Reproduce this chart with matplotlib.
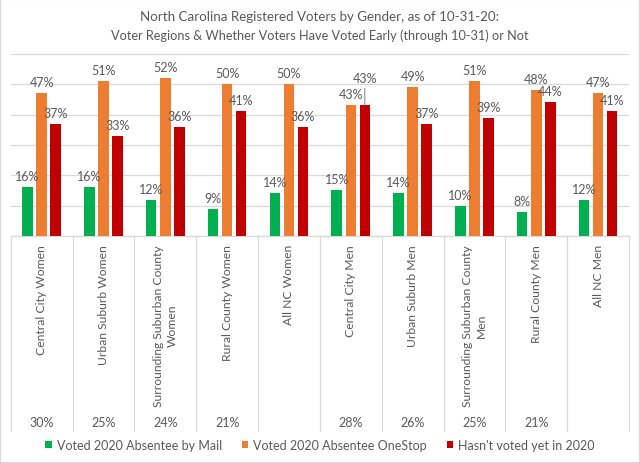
import matplotlib.pyplot as plt
import matplotlib.transforms as mtransforms
from matplotlib.patches import Rectangle, Patch

categories = [
    "Central City Women",
    "Urban Suburb Women",
    "Surrounding Suburban County\nWomen",
    "Rural County Women",
    "All NC Women",
    "Central City Men",
    "Urban Suburb Men",
    "Surrounding Suburban County\nMen",
    "Rural County Men",
    "All NC Men",
]
share_labels = ["30%", "25%", "24%", "21%", "", "28%", "26%", "25%", "21%", ""]

mail = [16, 16, 12, 9, 14, 15, 14, 10, 8, 12]
onestop = [47, 51, 52, 50, 50, 43, 49, 51, 48, 47]
not_yet = [37, 33, 36, 41, 36, 43, 37, 39, 44, 41]

series_names = [
    "Voted 2020 Absentee by Mail",
    "Voted 2020 Absentee OneStop",
    "Hasn't voted yet in 2020",
]
colors = ["#00B050", "#ED7D31", "#C00000"]
text_color = "#595959"
grid_color = "#D9D9D9"

plt.rcParams["font.family"] = ["Lato", "DejaVu Sans"]

W, H = 640, 464
fig = plt.figure(figsize=(W / 100, H / 100), dpi=100)

base_px = 237
top_px = 54.8
left_px = 10.7
right_px = 629
ax = fig.add_axes([left_px / W, (H - base_px) / H,
                   (right_px - left_px) / W, (base_px - top_px) / H])

x = list(range(len(categories)))
bw = 0.17
step = 0.227
all_series = [mail, onestop, not_yet]

# extra lift for crowded labels (series index, category index) -> pixels
label_lift = {(2, 5): 16}

for s, (vals, col) in enumerate(zip(all_series, colors)):
    xs = [i + (s - 1) * step for i in x]
    ax.bar(xs, vals, width=bw, color=col, zorder=3)
    for i, (xx, v) in enumerate(zip(xs, vals)):
        lift = label_lift.get((s, i), 0)
        ax.annotate(f"{v}%", (xx, v), xytext=(0, 11 + lift),
                    textcoords="offset pixels", ha="center", va="center",
                    fontsize=9, color=text_color, zorder=4)
        if lift:
            # leader line from the moved label down to the bar top
            ax.annotate("", xy=(xx, v), xytext=(0, lift + 1),
                        textcoords="offset pixels",
                        arrowprops=dict(arrowstyle="-", color="#7f7f7f",
                                        lw=0.7, shrinkA=0, shrinkB=0))

ax.set_xlim(-0.5, len(categories) - 0.5)
ax.set_ylim(0, 60)
ax.set_yticks(range(0, 61, 10))
ax.yaxis.grid(True, color=grid_color, lw=0.9, zorder=0)
ax.set_xticks([])
ax.tick_params(left=False, labelleft=False)
for side in ["top", "right", "left"]:
    ax.spines[side].set_visible(False)
ax.spines["bottom"].set_color(grid_color)
ax.spines["bottom"].set_linewidth(0.9)

# category separators and labels below the axis
btrans = mtransforms.blended_transform_factory(ax.transData, fig.transFigure)
for b in range(len(categories) + 1):
    ax.plot([b - 0.5, b - 0.5], [(H - base_px) / H, (H - 432) / H],
            transform=btrans, color=grid_color, lw=0.9, clip_on=False)

for i, (cat, share) in enumerate(zip(categories, share_labels)):
    ax.text(i, (H - 245) / H, cat, transform=btrans, rotation=90,
            ha="center", va="top", multialignment="center",
            fontsize=8.7, color=text_color, linespacing=1.25)
    ax.text(i, (H - 423) / H, share, transform=btrans,
            ha="center", va="center", fontsize=9, color=text_color)

fig.text(0.5, (H - 17) / H,
         "North Carolina Registered Voters by Gender, as of 10-31-20:",
         ha="center", va="center", fontsize=9.6, color=text_color)
fig.text(0.5, (H - 36) / H,
         "Voter Regions & Whether Voters Have Voted Early (through 10-31) or Not",
         ha="center", va="center", fontsize=9.2, color=text_color)

handles = [Patch(facecolor=c, label=n) for c, n in zip(colors, series_names)]
fig.legend(handles=handles, loc="center", bbox_to_anchor=(0.5, (H - 446) / H),
           ncol=3, frameon=False, fontsize=9, handlelength=0.5,
           handleheight=0.5, handletextpad=0.4, columnspacing=1.6,
           labelcolor=text_color)

fig.patches.append(Rectangle((0, 0), 1, 1, transform=fig.transFigure,
                             fill=False, edgecolor=grid_color, lw=1.5))

fig.savefig("out.png", dpi=100)
